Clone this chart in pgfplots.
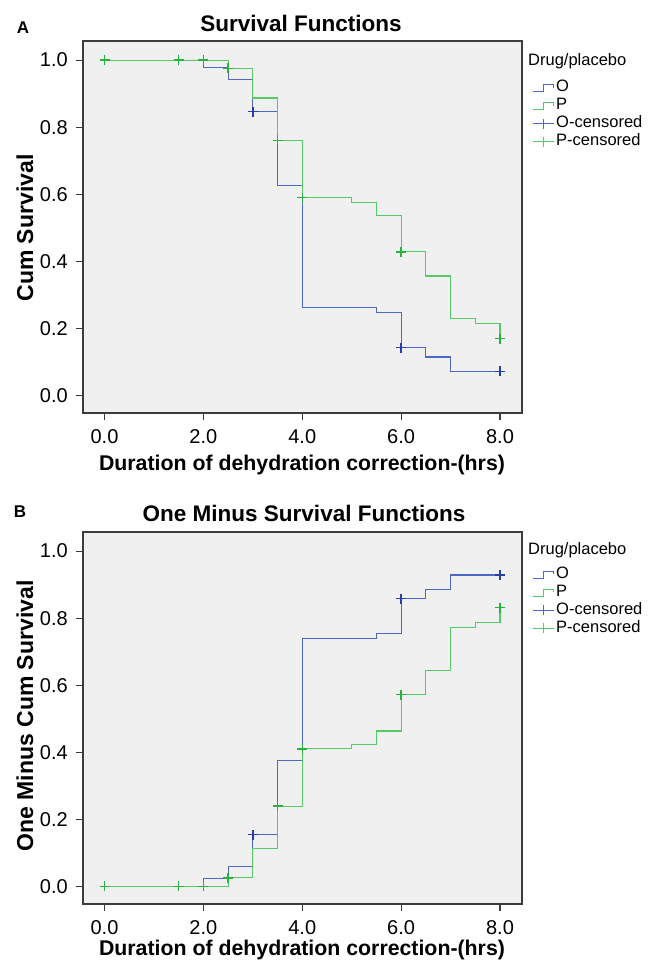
\documentclass[border=0pt]{standalone}
\usepackage{fontspec}
\setmainfont{Liberation Sans}
\usepackage{pgfplots}
\pgfplotsset{compat=1.18}

\definecolor{oline}{RGB}{78,104,198}
\definecolor{omark}{RGB}{40,62,170}
\definecolor{pline}{RGB}{88,200,104}
\definecolor{pmark}{RGB}{40,176,64}
\definecolor{bg}{RGB}{240,240,240}
\definecolor{frame}{RGB}{60,60,60}

\pgfplotsset{
  km/.style={
    width=439pt, height=372pt, scale only axis,
    xmin=-0.435, xmax=8.445, ymin=-0.053, ymax=1.057,
    axis background/.style={fill=bg},
    axis line style={frame, line width=1.2pt},
    xtick={0,2,4,6,8}, ytick={0,0.2,0.4,0.6,0.8,1},
    tick align=outside, tick pos=left,
    major tick length=7pt,
    every tick/.style={frame, line width=1.2pt},
    /pgf/number format/.cd, fixed, fixed zerofill, precision=1, assume math mode=true,
    /pgfplots/.cd,
    tick label style={font=\fontsize{20}{20}\selectfont},
    xticklabel style={anchor=center, inner sep=0pt, yshift=-17pt},
    yticklabel style={anchor=east, inner sep=0pt, xshift=-8pt},
    legend style={draw=none, fill=none, inner sep=0pt, outer sep=0pt,
      anchor=north west,
      font=\fontsize{16.5}{18}\selectfont, row sep=0pt,
      nodes={inner xsep=2pt, inner ysep=2pt, text height=11pt, text depth=3pt}},
    legend cell align=left,
  },
  stepline/.style={const plot, line width=1.2pt},
  cens/.style={only marks, mark=+, mark size=5pt, mark options={line width=1.4pt}},
}

\begin{document}
\begin{tikzpicture}
\path[use as bounding box] (0pt,0pt) rectangle (650pt,-961pt);

% ---------- A: survival functions
\begin{axis}[km, at={(83pt,-413pt)}, anchor=south west,
  legend style={at={(axis description cs:1.0228,0.899)}}]
\addplot[stepline, oline, legend image code/.code={\draw[oline, line width=1.2pt] (0pt,-4pt) -- (11pt,-4pt) -- (11pt,3pt) -- (21pt,3pt) -- (21pt,0pt);}] coordinates {
(0,1) (2,0.977) (2.5,0.942) (3,0.846) (3.5,0.625) (4,0.261) (5.5,0.247) (6,0.142) (6.5,0.114) (7,0.071) (8,0.071)};
\addplot[stepline, pline, legend image code/.code={\draw[pline, line width=1.2pt] (0pt,-4pt) -- (11pt,-4pt) -- (11pt,3pt) -- (21pt,3pt) -- (21pt,0pt);}] coordinates {
(0,1) (2.5,0.975) (3,0.887) (3.5,0.761) (4,0.590) (5,0.576) (5.5,0.537) (6,0.428) (6.5,0.356) (7,0.229) (7.5,0.214) (8,0.169)};
\addplot[cens, omark, legend image code/.code={\draw[oline, line width=1.2pt] (0pt,0pt) -- (21pt,0pt); \draw[oline, line width=1.2pt] (10.5pt,-5pt) -- (10.5pt,5pt);}] coordinates {
(3,0.846) (6,0.142) (8,0.071)};
\addplot[cens, pmark, legend image code/.code={\draw[pline, line width=1.2pt] (0pt,0pt) -- (21pt,0pt); \draw[pline, line width=1.2pt] (10.5pt,-5pt) -- (10.5pt,5pt);}] coordinates {
(0,1) (1.5,1) (2,1) (2.5,0.975) (3.5,0.761) (4,0.590) (6,0.428) (8,0.169)};
\legend{O, P, O-censored, P-censored}
\end{axis}

% ---------- B: one minus survival functions
\begin{axis}[km, at={(83pt,-904pt)}, anchor=south west,
  legend style={at={(axis description cs:1.0228,0.91)}}]
\addplot[stepline, oline, legend image code/.code={\draw[oline, line width=1.2pt] (0pt,-4pt) -- (11pt,-4pt) -- (11pt,3pt) -- (21pt,3pt) -- (21pt,0pt);}] coordinates {
(0,0) (2,0.023) (2.5,0.058) (3,0.154) (3.5,0.375) (4,0.739) (5.5,0.753) (6,0.858) (6.5,0.886) (7,0.929) (8,0.929)};
\addplot[stepline, pline, legend image code/.code={\draw[pline, line width=1.2pt] (0pt,-4pt) -- (11pt,-4pt) -- (11pt,3pt) -- (21pt,3pt) -- (21pt,0pt);}] coordinates {
(0,0) (2.5,0.025) (3,0.113) (3.5,0.239) (4,0.410) (5,0.424) (5.5,0.463) (6,0.572) (6.5,0.644) (7,0.771) (7.5,0.786) (8,0.831)};
\addplot[cens, omark, legend image code/.code={\draw[oline, line width=1.2pt] (0pt,0pt) -- (21pt,0pt); \draw[oline, line width=1.2pt] (10.5pt,-5pt) -- (10.5pt,5pt);}] coordinates {
(3,0.154) (6,0.858) (8,0.929)};
\addplot[cens, pmark, legend image code/.code={\draw[pline, line width=1.2pt] (0pt,0pt) -- (21pt,0pt); \draw[pline, line width=1.2pt] (10.5pt,-5pt) -- (10.5pt,5pt);}] coordinates {
(0,0) (1.5,0) (2,0) (2.5,0.025) (3.5,0.239) (4,0.410) (6,0.572) (8,0.831)};
\legend{O, P, O-censored, P-censored}
\end{axis}

% ---------- titles and labels
\node[font=\bfseries\fontsize{17}{17}\selectfont] at (23pt,-28pt) {A};
\node[font=\bfseries\fontsize{22.5}{22.5}\selectfont] at (301pt,-23pt) {Survival Functions};
\node[font=\bfseries\fontsize{21.3}{21.3}\selectfont] at (302pt,-465pt) {Duration of dehydration correction-(hrs)};
\node[font=\bfseries\fontsize{23}{23}\selectfont, rotate=90] at (25pt,-228pt) {Cum Survival};
\node[font=\fontsize{16.5}{16.5}\selectfont, anchor=west, inner sep=0pt] at (528pt,-61pt) {Drug/placebo};

\node[font=\bfseries\fontsize{17}{17}\selectfont] at (20pt,-512pt) {B};
\node[font=\bfseries\fontsize{22.5}{22.5}\selectfont] at (304pt,-513pt) {One Minus Survival Functions};
\node[font=\bfseries\fontsize{21.3}{21.3}\selectfont] at (302pt,-950pt) {Duration of dehydration correction-(hrs)};
\node[font=\bfseries\fontsize{23}{23}\selectfont, rotate=90] at (25pt,-716pt) {One Minus Cum Survival};
\node[font=\fontsize{16.5}{16.5}\selectfont, anchor=west, inner sep=0pt] at (528pt,-550pt) {Drug/placebo};
\end{tikzpicture}
\end{document}
